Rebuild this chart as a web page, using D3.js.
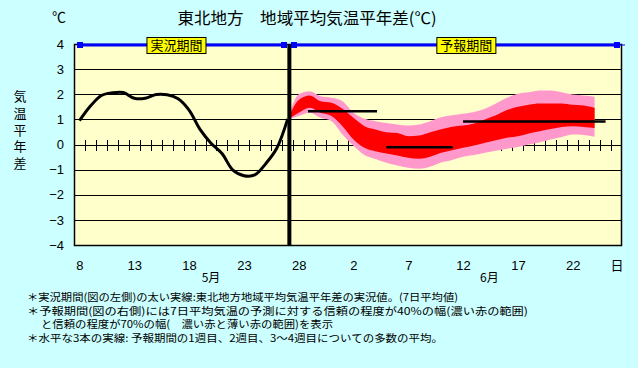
<!DOCTYPE html>
<html><head><meta charset="utf-8">
<script src="https://cdn.jsdelivr.net/npm/d3@7/dist/d3.min.js"></script>
<style>
body{margin:0;padding:0;background:#CCFFFF;}
svg{display:block;}
text{font-family:"Noto Sans CJK JP","Noto Sans",sans-serif;fill:#000;}
</style></head>
<body>
<svg id="chart" width="638" height="368"></svg>
<script>
// ---------------- DATA ----------------
// day index 0 = May 8 ... 49 = June 26
const xTickDays   = [0, 5, 10, 15, 20, 25, 30, 35, 40, 45, 49];
const xTickLabels = ["8","13","18","23","28","2","7","12","17","22","日"];
const yTicks = [4, 3, 2, 1, 0, -1, -2, -3, -4];
const months = [{label:"5月", day:12}, {label:"6月", day:37.4}];

// observed 7-day mean anomaly, days 0..19
const obsDays   = d3.range(0, 20);
const obsValues = [0.95, 1.53, 1.95, 2.06, 2.07, 1.84, 1.84, 1.99, 1.98, 1.82,
                   1.37, 0.6, 0.05, -0.36, -1.02, -1.24, -1.21, -0.76, -0.15, 1.02];

// forecast bands, days 19..47
const fcDays  = d3.range(19, 48);
const pinkTop = [1.0, 2.0, 2.12, 1.92, 1.86, 1.72, 1.26, 1.02, 0.93, 0.86, 0.8, 0.76, 0.8, 0.93, 1.08,
                 1.16, 1.22, 1.29, 1.42, 1.63, 1.86, 2.02, 2.08, 2.15, 2.15, 2.08, 1.99, 1.95, 1.9];
const redTop  = [1.0, 1.77, 1.95, 1.72, 1.66, 1.42, 1.06, 0.73, 0.6, 0.49, 0.46, 0.33, 0.36, 0.49, 0.61,
                 0.71, 0.76, 0.84, 1.0, 1.16, 1.37, 1.5, 1.58, 1.63, 1.63, 1.63, 1.58, 1.55, 1.46];
const redBot  = [1.0, 1.26, 1.46, 1.26, 1.13, 0.73, 0.2, -0.13, -0.27, -0.36, -0.44, -0.53, -0.57, -0.49, -0.33,
                 -0.23, -0.13, -0.04, 0.07, 0.17, 0.27, 0.33, 0.44, 0.53, 0.62, 0.7, 0.73, 0.7, 0.66];
const pinkBot = [1.0, 1.13, 1.26, 1.06, 0.93, 0.4, -0.05, -0.42, -0.58, -0.73, -0.84, -0.93, -0.97, -0.89, -0.72,
                 -0.62, -0.49, -0.42, -0.33, -0.25, -0.17, -0.1, 0.0, 0.09, 0.2, 0.3, 0.4, 0.38, 0.31];

// ensemble mean of week1, week2, weeks3-4
const meanStart = [20.85, 28, 35];
const meanEnd   = [27.15, 34.05, 48];
const meanValue = [1.32, -0.11, 0.92];

// periods
const periodNames = ["実況期間", "予報期間"];
const periodStart = [0.05, 19.57];
const periodEnd   = [18.66, 49.04];
const periodLabelDay = [8.85, 35.3];
const nowDay = 19.15;

const title = "東北地方　地域平均気温平年差(℃)";
const yTitle = "気温平年差";
const notes = [
  "＊実況期間(図の左側)の太い実線:東北地方地域平均気温平年差の実況値。(7日平均値)",
  "＊予報期間(図の右側)には7日平均気温の予測に対する信頼の程度が40%の幅(濃い赤の範囲)",
  "と信頼の程度が70%の幅(　濃い赤と薄い赤の範囲)を表示",
  "＊水平な3本の実線: 予報期間の1週目、2週目、3～4週目についての多数の平均。"
];

// ---------------- LAYOUT ----------------
const svg = d3.select("#chart");
const L = 74, R = 622, T = 44, B = 245;
const x = d3.scaleLinear().domain([-0.5, 49.5]).range([L, R]);
const y = d3.scaleLinear().domain([-4, 4]).range([B, T]);

svg.append("rect").attr("width", 638).attr("height", 368).attr("fill", "#CCFFFF");
svg.append("rect").attr("x", L).attr("y", T).attr("width", R - L).attr("height", B - T)
   .attr("fill", "#FFFFCC");

// gridlines
svg.append("g").selectAll("line").data(yTicks.filter(v => v > -4 && v < 4)).join("line")
  .attr("x1", L).attr("x2", R).attr("y1", d => Math.round(y(d)) + 0.5).attr("y2", d => Math.round(y(d)) + 0.5)
  .attr("stroke", "#000").attr("stroke-width", 1);

// day ticks on zero line
svg.append("g").selectAll("line").data(d3.range(0, 49)).join("line")
  .attr("x1", d => Math.round(x(d + 0.5)) + 0.5).attr("x2", d => Math.round(x(d + 0.5)) + 0.5)
  .attr("y1", Math.round(y(0)) - 5).attr("y2", Math.round(y(0)) + 6)
  .attr("stroke", "#000").attr("stroke-width", 1);

// bands
const fc = fcDays.map((d, i) => ({d, pt: pinkTop[i], rt: redTop[i], rb: redBot[i], pb: pinkBot[i]}));
const curve = d3.curveMonotoneX;
svg.append("path").datum(fc)
  .attr("d", d3.area().x(d => x(d.d)).y0(d => y(d.pb)).y1(d => y(d.pt)).curve(curve))
  .attr("fill", "#FF99CC");
svg.append("path").datum(fc)
  .attr("d", d3.area().x(d => x(d.d)).y0(d => y(d.rb)).y1(d => y(d.rt)).curve(curve))
  .attr("fill", "#FF0000");

// plot border
svg.append("rect").attr("x", L + 0.5).attr("y", T + 0.5).attr("width", R - L - 1).attr("height", B - T)
   .attr("fill", "none").attr("stroke", "#000").attr("stroke-width", 1.5);

// observed line
const obs = obsDays.map((d, i) => ({d, v: obsValues[i]}));
svg.append("path").datum(obs)
  .attr("d", d3.line().x(d => x(d.d)).y(d => y(d.v)).curve(d3.curveCatmullRom.alpha(0.5)))
  .attr("fill", "none").attr("stroke", "#000").attr("stroke-width", 3).attr("stroke-linejoin", "round");

// now line
svg.append("line").attr("x1", x(nowDay)).attr("x2", x(nowDay)).attr("y1", T).attr("y2", B)
  .attr("stroke", "#000").attr("stroke-width", 4);

// mean lines
svg.append("g").selectAll("line").data(meanValue).join("line")
  .attr("x1", (d, i) => x(meanStart[i])).attr("x2", (d, i) => x(meanEnd[i]))
  .attr("y1", d => y(d)).attr("y2", d => y(d))
  .attr("stroke", "#000").attr("stroke-width", 2.5);

// period bars
const pg = svg.append("g");
periodNames.forEach((name, i) => {
  pg.append("line").attr("x1", x(periodStart[i])).attr("x2", x(periodEnd[i]))
    .attr("y1", T + 1).attr("y2", T + 1).attr("stroke", "#0000FF").attr("stroke-width", 3);
  [periodStart[i], periodEnd[i]].forEach(dd => {
    pg.append("rect").attr("x", x(dd) - 3).attr("y", T - 2).attr("width", 6).attr("height", 6).attr("fill", "#0000FF");
  });
});
pg.append("line").attr("x1", x(periodEnd[1])).attr("x2", R + 3).attr("y1", T + 1).attr("y2", T + 1)
  .attr("stroke", "#0000FF").attr("stroke-width", 1);
periodNames.forEach((name, i) => {
  const cx = x(periodLabelDay[i]);
  pg.append("rect").attr("x", cx - 29.5).attr("y", 37.5).attr("width", 59).attr("height", 16)
    .attr("fill", "#FFFF00").attr("stroke", "#000").attr("stroke-width", 1);
  pg.append("text").attr("x", cx).attr("y", 50).attr("text-anchor", "middle")
    .attr("font-size", 13).text(name);
});

// y axis labels
const yAxis = d3.axisLeft(y).tickValues(yTicks).tickSize(0).tickPadding(10)
  .tickFormat(d => d < 0 ? "−" + Math.abs(d) : String(d));
const gy = svg.append("g").attr("transform", `translate(${L},0)`).call(yAxis);
gy.select(".domain").remove();
gy.selectAll("text").attr("font-size", 13).attr("fill", "#000")
  .style("font-family", "'Liberation Sans',Arial,sans-serif");

// x axis labels
const xAxis = d3.axisBottom(x).tickValues(xTickDays).tickSize(0).tickPadding(16)
  .tickFormat((d, i) => xTickLabels[i]);
const gx = svg.append("g").attr("transform", `translate(0,${B})`).call(xAxis);
gx.select(".domain").remove();
gx.selectAll("text").attr("font-size", 13).attr("fill", "#000")
  .style("font-family", d => d === 49 ? "'Noto Sans CJK JP',sans-serif" : "'Liberation Sans',Arial,sans-serif");

// month labels
svg.append("g").selectAll("text").data(months).join("text")
  .attr("x", d => x(d.day)).attr("y", 282).attr("text-anchor", "middle").attr("font-size", 12)
  .text(d => d.label);

// titles
svg.append("text").attr("x", 307).attr("y", 24).attr("text-anchor", "middle")
  .attr("font-size", 16).attr("textLength", 259).attr("lengthAdjust", "spacingAndGlyphs").text(title);
svg.append("text").attr("x", 59).attr("y", 22).attr("text-anchor", "middle").attr("font-size", 14).text("℃");

// vertical y title (single vertical text)
svg.append("text").attr("x", 20).attr("y", 90)
  .style("writing-mode", "vertical-rl").style("letter-spacing", "3.6px")
  .attr("font-size", 13).text(yTitle);

// notes
const noteX = [27, 27, 41, 27];
const noteY = [301, 314.5, 328, 341.5];
const noteW = [431, 501, 292, 416];
svg.append("g").selectAll("text").data(notes).join("text")
  .attr("x", (d, i) => noteX[i]).attr("y", (d, i) => noteY[i]).attr("font-size", 10.5)
  .attr("textLength", (d, i) => noteW[i]).attr("lengthAdjust", "spacingAndGlyphs")
  .text(d => d);
</script>
</body></html>
